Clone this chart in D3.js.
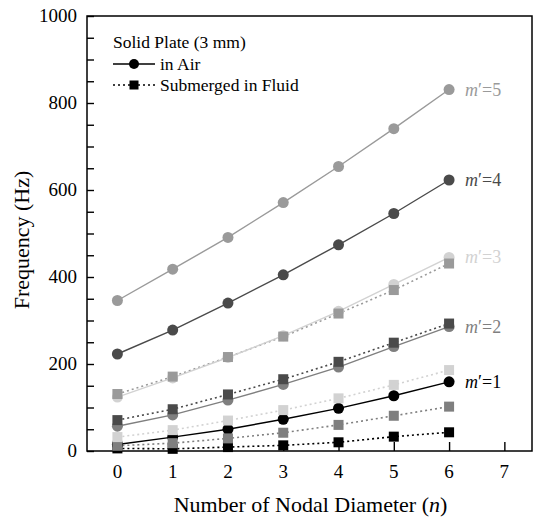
<!DOCTYPE html>
<html>
<head>
<meta charset="utf-8">
<script src="https://cdn.jsdelivr.net/npm/d3@7"></script>
<style>
  body { margin: 0; background: #fff; }
  svg text { font-family: 'Liberation Serif', 'Times New Roman', serif; fill: #000; }
</style>
</head>
<body>
<div id="chart"></div>
<script>
// nodal diameter n
const nodal = [0, 1, 2, 3, 4, 5, 6];
const xTicks = [0, 1, 2, 3, 4, 5, 6, 7];
const yTicks = [0, 200, 400, 600, 800, 1000];

// frequencies (Hz), in air (circles, solid)
const airM1 = [15, 32, 50, 73, 98, 127, 159];
const airM2 = [57, 83, 117, 153, 193, 240, 286];
const airM3 = [124, 168, 215, 265, 321, 383, 445];
const airM4 = [223, 278, 340, 405, 474, 546, 623];
const airM5 = [346, 418, 491, 571, 654, 741, 831];

// frequencies (Hz), submerged in fluid (squares, dotted)
const fluidM1 = [6, 5, 9, 13, 20, 33, 43];
const fluidM2 = [12, 18, 29, 42, 60, 81, 102];
const fluidM3 = [32, 48, 70, 94, 121, 152, 186];
const fluidM4 = [71, 96, 130, 165, 205, 249, 293];
const fluidM5 = [131, 171, 216, 263, 316, 370, 431];

const modeLabels = ['1', '2', '3', '4', '5'];
const modeColors = ['#000000', '#7f7f7f', '#d2d2d2', '#4a4a4a', '#9a9a9a'];

const airSeries = [airM1, airM2, airM3, airM4, airM5];
const fluidSeries = [fluidM1, fluidM2, fluidM3, fluidM4, fluidM5];

const W = 533, H = 520;
const margin = { top: 16, right: 1, bottom: 69, left: 87 };

const x = d3.scaleLinear().domain([-0.55, 7.5]).range([margin.left, W - margin.right]);
const y = d3.scaleLinear().domain([0, 1000]).range([H - margin.bottom, margin.top]);

const svg = d3.select('#chart').append('svg')
  .attr('width', W)
  .attr('height', H);

// frame
svg.append('rect')
  .attr('x', x(-0.55)).attr('y', y(1000))
  .attr('width', x(7.5) - x(-0.55)).attr('height', y(0) - y(1000))
  .attr('fill', 'none').attr('stroke', '#000').attr('stroke-width', 1.5);

// y axis, ticks inward
const yAxis = svg.append('g')
  .attr('transform', 'translate(' + x(-0.55) + ',0)')
  .call(d3.axisRight(y).tickValues(d3.range(0, 1001, 50)).tickSize(7).tickFormat(''));
yAxis.select('.domain').remove();
yAxis.selectAll('line').attr('stroke', '#000').attr('stroke-width', 1.4);

svg.append('g').selectAll('text')
  .data(yTicks)
  .enter().append('text')
  .attr('x', x(-0.55) - 10)
  .attr('y', d => y(d) + 6)
  .attr('text-anchor', 'end')
  .style('font-size', '19px')
  .text(d => d);

// x axis, ticks inward
const xAxis = svg.append('g')
  .attr('transform', 'translate(0,' + y(0) + ')')
  .call(d3.axisTop(x).tickValues(xTicks).tickSize(9).tickFormat(''));
xAxis.select('.domain').remove();
xAxis.selectAll('line').attr('stroke', '#000').attr('stroke-width', 1.4);

svg.append('g').selectAll('text')
  .data(xTicks)
  .enter().append('text')
  .attr('x', d => x(d))
  .attr('y', y(0) + 27)
  .attr('text-anchor', 'middle')
  .style('font-size', '19px')
  .text(d => d);

// axis titles
const xTitle = svg.append('text')
  .attr('x', (x(-0.55) + x(7.5)) / 2 + 1)
  .attr('y', 512)
  .attr('text-anchor', 'middle')
  .style('font-size', '22px');
xTitle.append('tspan').text('Number of Nodal Diameter (');
xTitle.append('tspan').style('font-style', 'italic').text('n');
xTitle.append('tspan').text(')');

svg.append('text')
  .attr('transform', 'translate(29,' + 240 + ') rotate(-90)')
  .attr('text-anchor', 'middle')
  .style('font-size', '22px')
  .text('Frequency (Hz)');

const line = d3.line()
  .x((d, i) => x(nodal[i]))
  .y(d => y(d));

// fluid series lines
fluidSeries.forEach((vals, k) => {
  svg.append('path')
    .datum(vals)
    .attr('d', line)
    .attr('fill', 'none')
    .attr('stroke', modeColors[k])
    .attr('stroke-width', 1.6)
    .attr('stroke-dasharray', '2,3');
});

// air series lines
airSeries.forEach((vals, k) => {
  svg.append('path')
    .datum(vals)
    .attr('d', line)
    .attr('fill', 'none')
    .attr('stroke', modeColors[k])
    .attr('stroke-width', 1.4);
});

// circles first, squares drawn on top of them
airSeries.forEach((vals, k) => {
  svg.append('g').selectAll('circle')
    .data(vals)
    .enter().append('circle')
    .attr('cx', (d, i) => x(nodal[i]))
    .attr('cy', d => y(d))
    .attr('r', 5.5)
    .attr('fill', modeColors[k]);
});

fluidSeries.forEach((vals, k) => {
  svg.append('g').selectAll('rect')
    .data(vals)
    .enter().append('rect')
    .attr('x', (d, i) => x(nodal[i]) - 5)
    .attr('y', d => y(d) - 5)
    .attr('width', 10).attr('height', 10)
    .attr('fill', modeColors[k]);
});

// m' labels at the end of air curves
modeLabels.forEach((m, k) => {
  const t = svg.append('text')
    .attr('x', x(6) + 16)
    .attr('y', y(airSeries[k][6]) + 6)
    .style('font-size', '18px')
    .style('fill', modeColors[k]);
  t.append('tspan').style('font-style', 'italic').text('m');
  t.append('tspan').text('\u2032=' + m);
});

// legend
const lg = svg.append('g');
lg.append('text').attr('x', 113).attr('y', 48).style('font-size', '17.5px').text('Solid Plate (3 mm)');
lg.append('line').attr('x1', 113).attr('x2', 155).attr('y1', 64).attr('y2', 64)
  .attr('stroke', '#000').attr('stroke-width', 1.4);
lg.append('circle').attr('cx', 134).attr('cy', 64).attr('r', 5).attr('fill', '#000');
lg.append('text').attr('x', 160).attr('y', 70).style('font-size', '17.5px').text('in Air');
lg.append('line').attr('x1', 113).attr('x2', 155).attr('y1', 85).attr('y2', 85)
  .attr('stroke', '#000').attr('stroke-width', 1.6).attr('stroke-dasharray', '2,3');
lg.append('rect').attr('x', 129.5).attr('y', 80.5).attr('width', 9).attr('height', 9).attr('fill', '#000');
lg.append('text').attr('x', 160).attr('y', 91).style('font-size', '17.5px').text('Submerged in Fluid');
</script>
</body>
</html>
